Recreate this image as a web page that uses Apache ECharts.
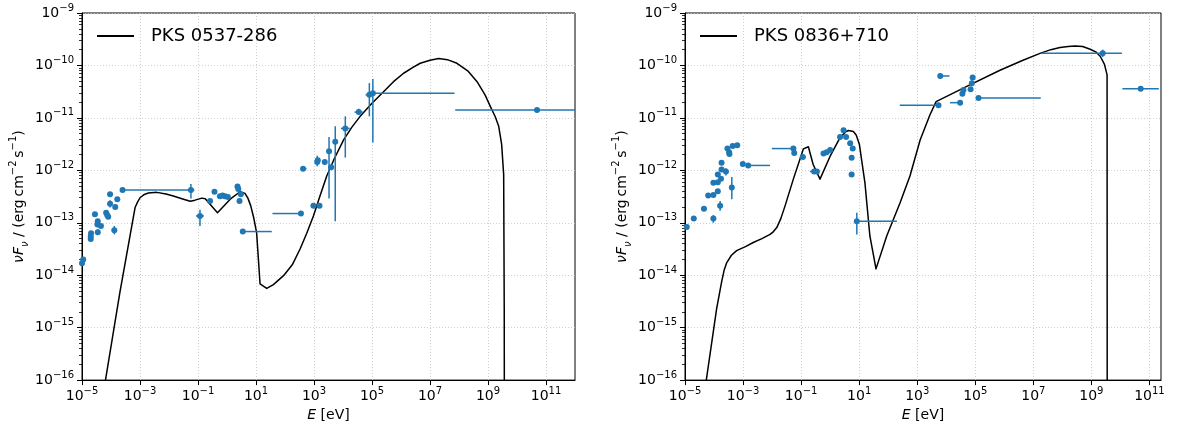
<!DOCTYPE html>
<html><head><meta charset="utf-8">
<script src="https://cdn.jsdelivr.net/npm/echarts@6/dist/echarts.min.js"></script>
<style>html,body{margin:0;padding:0;background:#fff}#c{width:1179px;height:427px}</style>
</head><body><div id="c"></div>
<script>
const FONT = 'DejaVu Sans';
const BLUE = '#1f77b4';

// ---- axis ranges / ticks (exponents of 10) ----
const xTickExps = [-5, -3, -1, 1, 3, 5, 7, 9, 11];
const yTickExps = [-16, -15, -14, -13, -12, -11, -10, -9];
const leftXRange = [1e-5, 1e12];
const rightXRange = [1e-5, 2.5e11];
const yRange = [1e-16, 1e-9];

// ---- PKS 0537-286 ----
const leftName = 'PKS 0537-286';
// model curve: [E (eV), nuFnu]
const leftModel = [
  [5.25e-5, 5.0e-17], [2.04e-4, 4.8e-15], [6.76e-4, 1.95e-13], [8.3e-4, 2.5e-13], [1e-3, 3.0e-13],
  [1.41e-3, 3.47e-13], [1.95e-3, 3.7e-13], [3.8e-3, 3.8e-13], [7.9e-3, 3.55e-13], [1.41e-2, 3.24e-13],
  [3.16e-2, 2.82e-13], [5.4e-2, 2.57e-13], [7.9e-2, 2.7e-13], [0.135, 2.95e-13], [0.178, 2.88e-13],
  [0.20, 2.82e-13], [0.47, 1.55e-13], [1.29, 2.82e-13], [2.82, 3.9e-13], [4.17, 3.63e-13],
  [5.25, 2.95e-13], [6.6, 2.1e-13], [8.3, 1.26e-13], [10.5, 6.5e-14], [13.8, 6.8e-15],
  [23.4, 5.6e-15], [39.8, 6.6e-15], [89, 9.8e-15], [178, 1.58e-14], [331, 3.16e-14],
  [562, 6.3e-14], [955, 1.35e-13], [1585, 3.16e-13], [2750, 7.8e-13], [5000, 1.66e-12],
  [1.05e4, 3.8e-12], [2.0e4, 6.6e-12], [3.9e4, 1.07e-11], [1e5, 1.9e-11], [2.5e5, 3.16e-11],
  [5.5e5, 4.9e-11], [1.23e6, 7.1e-11], [2.5e6, 9.1e-11], [4.6e6, 1.1e-10], [1e7, 1.26e-10],
  [2.0e7, 1.35e-10], [4.0e7, 1.29e-10], [8.5e7, 1.1e-10], [2.0e8, 7.9e-11], [4.2e8, 4.9e-11],
  [7.9e8, 2.75e-11], [1.2e9, 1.66e-11], [1.78e9, 1.05e-11], [2.34e9, 6.9e-12], [2.95e9, 3.16e-12],
  [3.47e9, 8.3e-13], [3.63e9, 2.3e-15], [3.67e9, 1e-17]
];
// data points: [E, F, Elo, Ehi, Flo, Fhi] (null = no error bar)
const leftPoints = [
  [1.0e-5, 1.7e-14, null, null, null, null],
  [1.1e-5, 2.0e-14, 1.0e-5, 1.25e-5, null, null],
  [2.0e-5, 4.9e-14, null, null, null, null],
  [2.0e-5, 5.5e-14, null, null, null, null],
  [2.05e-5, 6.3e-14, null, null, null, null],
  [2.8e-5, 1.45e-13, null, null, null, null],
  [3.5e-5, 1.07e-13, null, null, null, null],
  [3.4e-5, 9.3e-14, null, null, null, null],
  [3.5e-5, 6.6e-14, null, null, 6.0e-14, 7.5e-14],
  [4.5e-5, 8.7e-14, null, null, null, null],
  [6.8e-5, 1.55e-13, null, null, null, null],
  [7.4e-5, 1.4e-13, null, null, null, null],
  [8.0e-5, 1.3e-13, null, null, null, null],
  [9.3e-5, 2.3e-13, null, null, 1.95e-13, 2.7e-13],
  [9.3e-5, 3.5e-13, null, null, null, null],
  [1.3e-4, 7.2e-14, null, null, 6.0e-14, 8.7e-14],
  [1.4e-4, 2.0e-13, null, null, null, null],
  [1.65e-4, 2.8e-13, null, null, null, null],
  [2.5e-4, 4.2e-13, 2.2e-4, 4.0e-3, null, null],
  [5.7e-2, 4.2e-13, 4.0e-3, 7.5e-2, 2.9e-13, 5.5e-13],
  [0.117, 1.35e-13, 0.085, 0.16, 8.7e-14, 1.78e-13],
  [0.26, 2.6e-13, 0.22, 0.31, null, null],
  [0.37, 3.9e-13, null, null, null, null],
  [0.57, 3.2e-13, null, null, null, null],
  [0.70, 3.3e-13, null, null, null, null],
  [0.85, 3.2e-13, null, null, null, null],
  [1.07, 3.1e-13, null, null, null, null],
  [2.3, 4.9e-13, 2.0, 2.6, null, null],
  [2.45, 4.4e-13, null, null, null, null],
  [2.7, 2.6e-13, null, null, null, null],
  [3.0, 3.5e-13, null, null, null, null],
  [3.5, 6.8e-14, 3.1, 35, null, null],
  [355, 1.5e-13, 37, 380, null, null],
  [420, 1.07e-12, 340, 550, null, null],
  [955, 2.1e-13, 780, 1100, null, null],
  [1550, 2.1e-13, null, null, null, null],
  [1290, 1.44e-12, null, null, 1.2e-12, 1.9e-12],
  [1350, 1.55e-12, null, null, null, null],
  [2350, 1.44e-12, null, null, null, null],
  [3300, 2.3e-12, null, null, 2.9e-13, 4.3e-12],
  [3900, 1.15e-12, null, null, null, null],
  [5400, 3.5e-12, 4500, 6500, 1.07e-13, 6.9e-12],
  [1.2e4, 6.3e-12, 8.5e3, 1.7e4, 1.75e-12, 1.07e-11],
  [3.5e4, 1.29e-11, 2.5e4, 4.8e4, 1.15e-11, 1.5e-11],
  [8.1e4, 2.75e-11, 6e4, 9e4, 1.07e-11, 4.6e-11],
  [1.07e5, 2.95e-11, 1.0e5, 7e7, 3.4e-12, 5.5e-11],
  [4.9e10, 1.42e-11, 7.4e7, 1e12, null, null]
];

// ---- PKS 0836+710 ----
const rightName = 'PKS 0836+710';
const rightModel = [
  [4.47e-5, 5e-17], [5.25e-5, 8.9e-17], [1.23e-4, 2.3e-15], [1.82e-4, 7.4e-15], [2.24e-4, 1.26e-14],
  [2.75e-4, 1.74e-14], [3.98e-4, 2.4e-14], [6.0e-4, 2.95e-14], [1.26e-3, 3.55e-14], [2.24e-3, 4.2e-14],
  [4.47e-3, 5.0e-14], [8.5e-3, 6.0e-14], [1.12e-2, 6.8e-14], [1.45e-2, 8.1e-14], [2.0e-2, 1.2e-13],
  [2.8e-2, 2.1e-13], [5.4e-2, 6.8e-13], [0.12, 2.57e-12], [0.178, 2.82e-12], [0.26, 1.29e-12],
  [0.447, 6.8e-13], [1.0, 1.86e-12], [2.19, 4.2e-12], [3.55, 5.5e-12], [4.27, 5.75e-12],
  [6.3, 5.5e-12], [7.9, 4.7e-12], [10.2, 3.1e-12], [15.8, 5.75e-13], [23.4, 5.6e-14],
  [38, 1.32e-14], [89, 5.6e-14], [257, 2.4e-13], [562, 7.8e-13], [1260, 3.8e-12],
  [2750, 1.15e-11], [4470, 2.04e-11], [5.1e4, 4.0e-11], [7.1e5, 8.1e-11], [4.0e6, 1.23e-10],
  [1.7e7, 1.7e-10], [4.0e7, 2.0e-10], [8.3e7, 2.19e-10], [1.58e8, 2.29e-10], [2.75e8, 2.34e-10],
  [5.0e8, 2.29e-10], [9.1e8, 2.04e-10], [1.41e9, 1.82e-10], [2.04e9, 1.48e-10], [2.82e9, 1.05e-10],
  [3.47e9, 6.6e-11], [3.51e9, 1e-17]
];
const rightPoints = [
  [1.15e-5, 8.3e-14, 1.0e-5, 1.3e-5, null, null],
  [2.0e-5, 1.2e-13, 1.7e-5, 2.4e-5, null, null],
  [4.5e-5, 1.86e-13, 3.6e-5, 5.5e-5, null, null],
  [6.3e-5, 3.3e-13, null, null, null, null],
  [9.5e-5, 3.4e-13, null, null, null, null],
  [9.5e-5, 1.2e-13, null, null, 1.0e-13, 1.4e-13],
  [9.5e-5, 5.8e-13, null, null, null, null],
  [1.35e-4, 4.0e-13, null, null, null, null],
  [1.35e-4, 5.9e-13, null, null, null, null],
  [1.35e-4, 8.3e-13, null, null, null, null],
  [1.62e-4, 2.1e-13, null, null, 1.7e-13, 2.6e-13],
  [1.74e-4, 6.9e-13, null, null, null, null],
  [1.82e-4, 1.04e-12, null, null, null, null],
  [1.82e-4, 1.39e-12, null, null, null, null],
  [2.57e-4, 9.5e-13, null, null, 8.0e-13, 1.1e-12],
  [4.1e-4, 4.7e-13, null, null, 2.8e-13, 7.5e-13],
  [2.9e-4, 2.6e-12, null, null, null, null],
  [3.3e-4, 2.2e-12, null, null, null, null],
  [3.4e-4, 2.05e-12, null, null, null, null],
  [4.4e-4, 2.9e-12, null, null, null, null],
  [6.3e-4, 3.0e-12, null, null, null, null],
  [9.8e-4, 1.32e-12, null, null, null, null],
  [1.5e-3, 1.24e-12, 1.4e-3, 8.5e-3, null, null],
  [5.4e-2, 2.6e-12, 9.8e-3, 5.4e-2, null, null],
  [5.8e-2, 2.15e-12, null, null, null, null],
  [0.115, 1.8e-12, 0.09, 0.14, null, null],
  [0.28, 9.5e-13, 0.2, 0.36, null, null],
  [0.35, 9.5e-13, null, null, null, null],
  [0.59, 2.1e-12, null, null, null, null],
  [0.76, 2.2e-12, null, null, null, null],
  [1.0, 2.45e-12, null, null, null, null],
  [2.2, 4.3e-12, 1.8, 2.6, null, null],
  [2.9, 5.8e-12, null, null, null, null],
  [3.55, 4.3e-12, null, null, null, null],
  [4.9, 3.3e-12, null, null, null, null],
  [6.0, 2.6e-12, null, null, null, null],
  [5.5, 1.74e-12, null, null, null, null],
  [5.5, 8.3e-13, null, null, null, null],
  [8.3, 1.07e-13, 8.3, 200, 6.0e-14, 1.55e-13],
  [5400, 1.74e-11, 250, 5400, null, null],
  [6200, 6.3e-11, 6200, 1.29e4, 5.6e-11, 7.0e-11],
  [3.0e4, 1.95e-11, 1.35e4, 3.0e4, null, null],
  [3.6e4, 2.9e-11, null, null, null, null],
  [3.9e4, 3.4e-11, null, null, null, null],
  [6.9e4, 3.5e-11, null, null, null, null],
  [7.6e4, 4.6e-11, null, null, null, null],
  [8.1e4, 5.9e-11, null, null, 5.2e-11, 6.6e-11],
  [1.29e5, 2.4e-11, 1.29e5, 1.8e7, null, null],
  [2.45e9, 1.7e-10, 1.95e7, 1.12e10, 1.45e-10, 2.0e-10],
  [5.0e10, 3.6e-11, 1.17e10, 2.1e11, null, null]
];

// ---- helpers ----
const L = Math.log10;
const supTxt = n => String(n).replace('-', '\u2212');
const powLabel = v => '{b|10}{s|' + supTxt(v) + '}';
const tickRich = {
  b: {fontFamily: FONT, fontSize: 14, lineHeight: 20, color: '#000'},
  s: {fontFamily: FONT, fontSize: 10, lineHeight: 10, verticalAlign: 'top', color: '#000'}
};
const minorExps = [];
for (let n = yTickExps[0]; n < yTickExps[yTickExps.length - 1]; n++) {
  for (let k = 2; k <= 9; k++) minorExps.push(n + L(k));
}
function modelData(m) { return m.map(p => [L(p[0]), L(p[1])]); }
function pointData(pts) {
  return pts.map(p => {
    const e = p[0], f = p[1];
    return [L(e), L(f), L(p[2] == null ? e : p[2]), L(p[3] == null ? e : p[3]),
            L(p[4] == null ? f : p[4]), L(p[5] == null ? f : p[5])];
  });
}
function errRender(params, api) {
  const c = api.coord([api.value(0), api.value(1)]);
  const xl = api.coord([api.value(2), api.value(1)]);
  const xh = api.coord([api.value(3), api.value(1)]);
  const yl = api.coord([api.value(0), api.value(4)]);
  const yh = api.coord([api.value(0), api.value(5)]);
  const st = {stroke: BLUE, lineWidth: 1.5};
  const ch = [];
  if (Math.abs(xh[0] - xl[0]) > 0.5) ch.push({type: 'line', shape: {x1: xl[0], y1: c[1], x2: xh[0], y2: c[1]}, style: st});
  if (Math.abs(yh[1] - yl[1]) > 0.5) ch.push({type: 'line', shape: {x1: c[0], y1: yl[1], x2: c[0], y2: yh[1]}, style: st});
  return {type: 'group', children: ch};
}

const grids = [
  {left: 82, top: 13, width: 493, height: 368},
  {left: 685, top: 13, width: 476, height: 368}
];
const xRanges = [leftXRange, rightXRange];
const names = [leftName, rightName];
const models = [leftModel, rightModel];
const points = [leftPoints, rightPoints];

const option = {
  animation: false,
  backgroundColor: '#fff',
  textStyle: {fontFamily: FONT},
  grid: grids.map(g => Object.assign({show: true, borderColor: '#000', borderWidth: 1, containLabel: false}, g)),
  legend: [0, 1].map(i => ({
    data: [names[i]],
    left: grids[i].left + 15, top: 27, padding: 0,
    icon: 'rect', itemWidth: 37, itemHeight: 2,
    formatter: '{t|{name}}',
    textStyle: {fontFamily: FONT, fontSize: 18, color: '#000',
      rich: {t: {fontFamily: FONT, fontSize: 18, color: '#000', padding: [0, 0, 0, 12]}}}
  })),
  xAxis: [0, 1].map(i => ({
    type: 'value', gridIndex: i,
    min: L(xRanges[i][0]), max: L(xRanges[i][1]), interval: 2,
    name: '{i|E}{n| [eV]}', nameLocation: 'middle', nameGap: 27,
    nameTextStyle: {rich: {
      i: {fontFamily: FONT, fontSize: 14, fontStyle: 'italic', color: '#000'},
      n: {fontFamily: FONT, fontSize: 14, color: '#000'}}},
    axisLine: {show: true, onZero: false, lineStyle: {color: '#000', width: 1}},
    axisTick: {show: true, length: 5, inside: false, customValues: xTickExps, lineStyle: {color: '#000', width: 1}},
    axisLabel: {margin: 6, customValues: xTickExps, formatter: v => powLabel(Math.round(v)), rich: tickRich},
    splitLine: {show: true, lineStyle: {color: '#c4c4c4', width: 0.8, type: [1, 2]}}
  })),
  yAxis: [].concat(...[0, 1].map(i => [
    {
      type: 'value', gridIndex: i, position: 'left',
      min: L(yRange[0]), max: L(yRange[1]), interval: 1,
      name: '{i|\u03bdF}{u|\u03bd}{n| / (erg\u2009cm}{s|\u22122}{n|\u2009s}{s|\u22121}{n|)}',
      nameLocation: 'middle', nameRotate: 90, nameGap: 52,
      nameTextStyle: {rich: {
        i: {fontFamily: FONT, fontSize: 14, fontStyle: 'italic', lineHeight: 22, color: '#000'},
        u: {fontFamily: FONT, fontSize: 10, fontStyle: 'italic', lineHeight: 10, verticalAlign: 'bottom', color: '#000'},
        n: {fontFamily: FONT, fontSize: 14, lineHeight: 22, color: '#000'},
        s: {fontFamily: FONT, fontSize: 10, lineHeight: 10, verticalAlign: 'top', color: '#000'}}},
      axisLine: {show: true, onZero: false, lineStyle: {color: '#000', width: 1}},
      axisTick: {show: true, length: 5, lineStyle: {color: '#000', width: 1}},
      axisLabel: {margin: 8, formatter: v => powLabel(Math.round(v)), rich: tickRich},
      splitLine: {show: true, lineStyle: {color: '#c4c4c4', width: 0.8, type: [1, 2]}}
    },
    {
      type: 'value', gridIndex: i, position: 'left', offset: 0,
      min: L(yRange[0]), max: L(yRange[1]),
      axisLine: {show: false, onZero: false},
      axisTick: {show: true, length: 3, customValues: minorExps, lineStyle: {color: '#000', width: 0.8}},
      axisLabel: {show: false},
      splitLine: {show: false}
    }
  ])),
  series: [].concat(...[0, 1].map(i => [
    {
      type: 'line', name: names[i], xAxisIndex: i, yAxisIndex: 2 * i,
      data: modelData(models[i]), showSymbol: false, symbol: 'none', clip: true,
      color: '#000', lineStyle: {color: '#000', width: 1.5, join: 'round'}, z: 2
    },
    {
      type: 'custom', xAxisIndex: i, yAxisIndex: 2 * i, clip: true,
      data: pointData(points[i]), renderItem: errRender, z: 3, silent: true
    },
    {
      type: 'scatter', xAxisIndex: i, yAxisIndex: 2 * i, clip: true,
      data: pointData(points[i]).map(p => [p[0], p[1]]),
      symbol: 'circle', symbolSize: 6, itemStyle: {color: BLUE, opacity: 1}, z: 4, silent: true
    }
  ]))
};

const chart = echarts.init(document.getElementById('c'), null, {renderer: 'canvas'});
chart.setOption(option);
</script>
</body></html>
